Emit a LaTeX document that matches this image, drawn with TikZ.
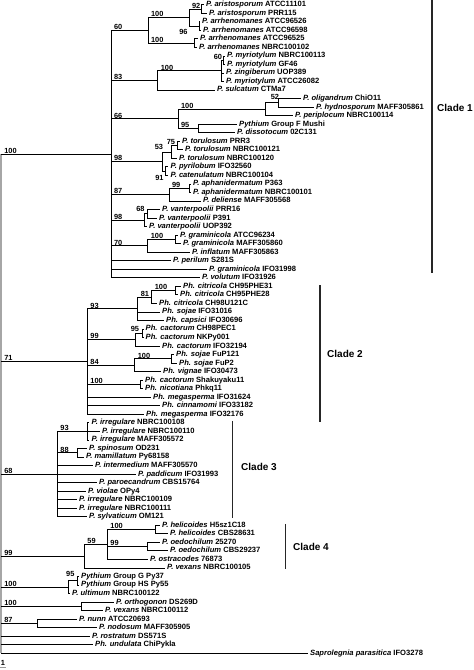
\documentclass[tikz,border=0pt]{standalone}
\usepackage{fontspec}
\setmainfont{Liberation Sans}
\tikzset{
  branch/.style={draw=black,line width=.75pt},
  rootbar/.style={draw=black!35,line width=2.5pt},
  cladebar/.style={draw=black!85,line width=1.1pt},
  taxon/.style={anchor=west,inner xsep=2pt,inner ysep=0pt,text height=5.4pt,
    text depth=1.5pt,font=\fontsize{7.6}{8}\selectfont\bfseries},
  boot/.style={anchor=south west,inner sep=.4pt,font=\fontsize{7.4}{8}\selectfont\bfseries},
  clade/.style={anchor=west,inner sep=2pt,font=\fontsize{10}{12}\selectfont\bfseries},
  scalebar/.style={draw=black!40,line width=.8pt}
}

\begin{document}
\begin{tikzpicture}[x=1pt,y=-8.534pt]
  \useasboundingbox (0,0.4493) rectangle (474,78.96);

  \foreach \tx/\sp/\st [count=\i] in {
    204/P. aristosporum/ATCC11101, 207/P. aristosporum/PRR115,
    200/P. arrhenomanes/ATCC96526, 201/P. arrhenomanes/ATCC96598,
    198/P. arrhenomanes/ATCC96525, 197/P. arrhenomanes/NBRC100102,
    225/P. myriotylum/NBRC100113, 225/P. myriotylum/GF46,
    224/P. zingiberum/UOP389, 224/P. myriotylum/ATCC26082,
    215/P. sulcatum/CTMa7, 301/P. oligandrum/ChiO11,
    314/P. hydnosporum/MAFF305861, 293/P. periplocum/NBRC100114,
    237/Pythium/Group F Mushi, 235/P. dissotocum/02C131,
    180/P. torulosum/PRR3, 183/P. torulosum/NBRC100121,
    177/P. torulosum/NBRC100120, 168.5/P. pyrilobum/IFO32560,
    168.5/P. catenulatum/NBRC100104, 191/P. aphanidermatum/P363,
    191/P. aphanidermatum/NBRC100101, 201/P. deliense/MAFF305568,
    160/P. vanterpoolii/PRR16, 157/P. vanterpoolii/P391,
    147/P. vanterpoolii/UOP392, 178/P. graminicola/ATCC96234,
    181/P. graminicola/MAFF305860, 190/P. inflatum/MAFF305863,
    171/P. perilum/S281S, 207/P. graminicola/IFO31998,
    200/P. volutum/IFO31926, 181/Ph. citricola/CH95PHE31,
    178/Ph. citricola/CH95PHE28, 157/Ph. citricola/CH98U121C,
    160/Ph. sojae/IFO31016, 164/Ph. capsici/IFO30696,
    143.5/Ph. cactorum/CH98PEC1, 143.5/Ph. cactorum/NKPy001,
    160/Ph. cactorum/IFO32194, 174/Ph. sojae/FuP121,
    177/Ph. sojae/FuP2, 161/Ph. vignae/IFO30473,
    143/Ph. cactorum/Shakuyaku11, 143/Ph. nicotiana/Phkq11,
    151/Ph. megasperma/IFO31624, 160/Ph. cinnamomi/IFO33182,
    144/Ph. megasperma/IFO32176, 89.5/P. irregulare/NBRC100108,
    100/P. irregulare/NBRC100110, 89.5/P. irregulare/MAFF305572,
    87/P. spinosum/OD231, 84/P. mamillatum/Py68158,
    93/P. intermedium/MAFF305570, 136/P. paddicum/IFO31993,
    97/P. paroecandrum/CBS15764, 86/P. violae/OPy4,
    77/P. irregulare/NBRC100109, 77/P. irregulare/NBRC100111,
    87/P. sylvaticum/OM121, 160/P. helicoides/H5sz1C18,
    168/P. helicoides/CBS28631, 160/P. oedochilum/25270,
    168/P. oedochilum/CBS29237, 148/P. ostracodes/76873,
    165/P. vexans/NBRC100105, 79/Pythium/Group G Py37,
    79/Pythium/Group HS Py55, 70/P. ultimum/NBRC100122,
    114/P. orthogonon/DS269D, 103/P. vexans/NBRC100112,
    77/P. nunn/ATCC20693, 97/P. nodosum/MAFF305905,
    90/P. rostratum/DS571S, 93/Ph. undulata/ChiPykla,
    308/Saprolegnia parasitica/IFO3278}
    \node[taxon] (t\i) at (\tx,\i) {\textit{\sp} \st};

  % clade 1
  \coordinate (n92) at (201.5,1.5);
  \coordinate (n96) at (199,3.5);
  \coordinate (n100a) at (189,2.5);
  \coordinate (n100b) at (194,5.5);
  \coordinate (n60) at (148,4);
  \coordinate (n60b) at (223.5,7.5);
  \coordinate (n100c) at (221.5,8.75);
  \coordinate (n83) at (157.7,9.875);
  \coordinate (n52) at (278,12.5);
  \coordinate (n100d) at (265.7,13.25);
  \coordinate (n95) at (198,15.5);
  \coordinate (n66) at (178,14.375);
  \coordinate (n75) at (177,17.5);
  \coordinate (n53) at (171.5,18.25);
  \coordinate (n91) at (165.5,20.5);
  \coordinate (n98) at (162.5,19.375);
  \coordinate (n99) at (189.3,22.5);
  \coordinate (n87) at (169,23.25);
  \coordinate (n68) at (147.7,25.5);
  \coordinate (n98b) at (144.3,26.25);
  \coordinate (n100e) at (175,28.5);
  \coordinate (n70) at (147.7,29.25);
  \coordinate (c1) at (111,18.5);
  % clade 2
  \coordinate (n100f) at (175,34.5);
  \coordinate (n81) at (151.7,35.25);
  \coordinate (n93) at (137.7,36.625);
  \coordinate (n95b) at (142.7,39.5);
  \coordinate (n99b) at (135,40.25);
  \coordinate (n100g) at (171,42.5);
  \coordinate (n84) at (134.7,43.25);
  \coordinate (n100h) at (140.7,45.5);
  \coordinate (c2) at (87.3,42.8125);
  % clade 3
  \coordinate (n93b) at (87.3,51);
  \coordinate (n88) at (77.3,53.5);
  \coordinate (c3) at (57.3,56);
  % clade 4
  \coordinate (n100i) at (155.7,62.5);
  \coordinate (n99c) at (147.7,64.5);
  \coordinate (n59) at (107.3,64.25);
  \coordinate (c4) at (84.3,65.625);
  % basal
  \coordinate (n95c) at (77.3,68.5);
  \coordinate (n100j) at (68.3,69.25);
  \coordinate (n100k) at (81,71.5);
  \coordinate (n87b) at (37.3,73.5);
  \coordinate (root) at (1.25,47.75);

  \foreach \p/\c in {n92/t1,n92/t2,n96/t3,n96/t4,n100a/n92,n100a/n96,
    n100b/t5,n100b/t6,n60/n100a,n60/n100b,n60b/t7,n60b/t8,n100c/n60b,
    n100c/t9,n100c/t10,n83/n100c,n83/t11,n52/t12,n52/t13,n100d/n52,
    n100d/t14,n95/t15,n95/t16,n66/n100d,n66/n95,n75/t17,n75/t18,
    n53/n75,n53/t19,n91/t20,n91/t21,n98/n53,n98/n91,n99/t22,n99/t23,
    n87/n99,n87/t24,n68/t25,n68/t26,n98b/n68,n98b/t27,n100e/t28,
    n100e/t29,n70/n100e,n70/t30,c1/n60,c1/n83,c1/n66,c1/n98,c1/n87,
    c1/n98b,c1/n70,c1/t31,c1/t32,c1/t33,
    n100f/t34,n100f/t35,n81/n100f,n81/t36,n93/n81,n93/t37,n93/t38,
    n95b/t39,n95b/t40,n99b/n95b,n99b/t41,n100g/t42,n100g/t43,
    n84/n100g,n84/t44,n100h/t45,n100h/t46,c2/n93,c2/n99b,c2/n84,
    c2/n100h,c2/t47,c2/t48,c2/t49,
    n93b/t50,n93b/t51,n93b/t52,n88/t53,n88/t54,c3/n93b,c3/n88,
    c3/t55,c3/t56,c3/t57,c3/t58,c3/t59,c3/t60,c3/t61,
    n100i/t62,n100i/t63,n99c/t64,n99c/t65,n59/n100i,n59/n99c,n59/t66,
    c4/n59,c4/t67,n95c/t68,n95c/t69,n100j/n95c,n100j/t70,
    n100k/t71,n100k/t72,n87b/t73,n87b/t74}
    \draw[branch] (\p) |- (\c);

  \draw[rootbar] (root |- c1) -- (root |- t77);
  \foreach \c in {c1,c2,c3,c4,n100j,n100k,n87b,t75,t76,t77}
    \draw[branch] (root |- \c) -- (\c);

  % bootstrap values
  \foreach \p/\c/\v in {n60/n100a/100,n100a/n92/92,n60/n100b/100,c1/n60/60,
    n83/n100c/100,c1/n83/83,n66/n100d/100,c1/n66/66,n66/n95/95,c1/n98/98,
    n87/n99/99,c1/n87/87,c1/n98b/98,n70/n100e/100,c1/n70/70,root/c1/100,
    n81/n100f/100,n93/n81/81,c2/n93/93,c2/n99b/99,n84/n100g/100,c2/n84/84,
    c2/n100h/100,root/c2/71,c3/n93b/93,c3/n88/88,root/c3/68,
    n59/n100i/100,n59/n99c/99,c4/n59/59,root/c4/99,root/n100j/100,
    root/n100k/100,root/n87b/87}
    \node[boot] (b\c) at ([xshift=2.5pt]\p |- \c) {\v};
  \node[boot,anchor=center] (bn96) at (183.5,4.2) {96};
  \node[boot,anchor=center] (bn60b) at (218,7.09) {60};
  \node[boot,anchor=center] (bn52) at (275,11.78) {52};
  \node[boot,anchor=center] (bn75) at (171,17.05) {75};
  \node[boot,anchor=center] (bn53) at (159,17.71) {53};
  \node[boot,anchor=center] (bn91) at (159.5,21.31) {91};
  \node[boot,anchor=center] (bn68) at (140.5,24.94) {68};
  \node[boot,anchor=center] (bn95b) at (135,39.04) {95};
  \node[boot,anchor=center] (bn95c) at (70.3,67.75) {95};

  % clades
  \coordinate (cb1a) at (432,0.449);  \coordinate (cb1b) at (432,32.44);
  \coordinate (cb2a) at (320,33.85);  \coordinate (cb2b) at (320,49.9);
  \coordinate (cb3a) at (232.7,49.78); \coordinate (cb3b) at (232.7,61.15);
  \coordinate (cb4a) at (285.7,61.85); \coordinate (cb4b) at (285.7,67.12);
  \draw[cladebar] (cb1a) -- (cb1b);
  \draw[cladebar] (cb2a) -- (cb2b);
  \draw[cladebar] (cb3a) -- (cb3b);
  \draw[cladebar] (cb4a) -- (cb4b);
  \node[clade] (clade1) at (435,13.1) {Clade 1};
  \node[clade] (clade2) at (325,41.93) {Clade 2};
  \node[clade] (clade3) at (239,55.17) {Clade 3};
  \node[clade] (clade4) at (291,64.55) {Clade 4};

  \node[boot,anchor=center] (scale) at (3,78.14) {1};
  \draw[scalebar] ([yshift=-1pt]scale.south west) -- ([yshift=-1pt]scale.south east);
\end{tikzpicture}
\end{document}
